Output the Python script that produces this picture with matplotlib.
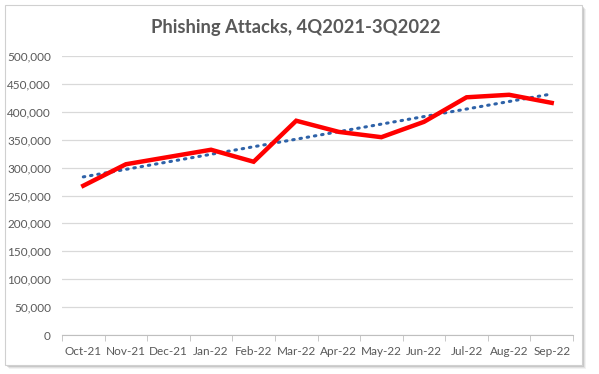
import numpy as np
import matplotlib.pyplot as plt
from matplotlib.patches import Rectangle
from matplotlib.ticker import FuncFormatter

months = ['Oct-21', 'Nov-21', 'Dec-21', 'Jan-22', 'Feb-22', 'Mar-22',
          'Apr-22', 'May-22', 'Jun-22', 'Jul-22', 'Aug-22', 'Sep-22']
attacks = [267500, 306000, 319000, 332000, 310500, 384000,
           364000, 354500, 382000, 426000, 430500, 416000]

x = np.arange(len(months))
slope, icpt = np.polyfit(x, attacks, 1)
trend = slope * x + icpt

plt.rcParams['font.family'] = ['Lato', 'DejaVu Sans']
grey = '#595959'

fig = plt.figure(figsize=(5.99, 3.74), dpi=100)

# chart border with soft shadow
W, H = 599, 374
for off, a in [(4, 0.10), (3, 0.15), (2, 0.25)]:
    fig.patches.append(Rectangle(((5 + off) / W, 1 - (365 + off) / H),
                                 (582 - 5) / W, (365 - 5) / H,
                                 transform=fig.transFigure, facecolor='#808080',
                                 alpha=a, edgecolor='none', zorder=0))
fig.patches.append(Rectangle((5 / W, 1 - 365 / H), (582 - 5) / W, (365 - 5) / H,
                             transform=fig.transFigure, facecolor='white',
                             edgecolor='#d0d0d0', lw=0.8, zorder=1))

ax = fig.add_axes([62 / W, 1 - 335 / H, (573 - 62) / W, (335 - 56) / H])
ax.set_facecolor('none')
ax.set_zorder(2)

ax.plot(x, trend, color='#2E62A8', lw=2.2, linestyle=(0, (0.5, 1.9)),
        dash_capstyle='round', zorder=3)
ax.plot(x, attacks, color='#FF0000', lw=3.2, solid_joinstyle='miter', zorder=4)

ax.set_xlim(-0.5, len(months) - 0.5)
ax.set_ylim(0, 500000)
ax.set_yticks(np.arange(0, 500001, 50000))
ax.yaxis.set_major_formatter(FuncFormatter(lambda v, p: f'{int(v):,}'))
ax.set_xticks(x)
ax.set_xticklabels(months)
ax.set_xticks(np.arange(-0.5, len(months), 1), minor=True)

ax.grid(axis='y', color='#d9d9d9', lw=0.9)
for s in ['top', 'right', 'left']:
    ax.spines[s].set_visible(False)
ax.spines['bottom'].set_color('#bfbfbf')
ax.tick_params(axis='y', length=0, labelsize=8.5, labelcolor=grey, pad=8)
ax.tick_params(axis='x', which='major', length=0, labelsize=8.5,
               labelcolor=grey, pad=8)
ax.tick_params(axis='x', which='minor', length=4, color='#bfbfbf')

fig.text(296 / W, 1 - 28 / H, 'Phishing Attacks, 4Q2021-3Q2022',
         ha='center', va='center', fontsize=13.2, fontweight='bold', color=grey)

fig.savefig('out.png', dpi=100, facecolor='white')
